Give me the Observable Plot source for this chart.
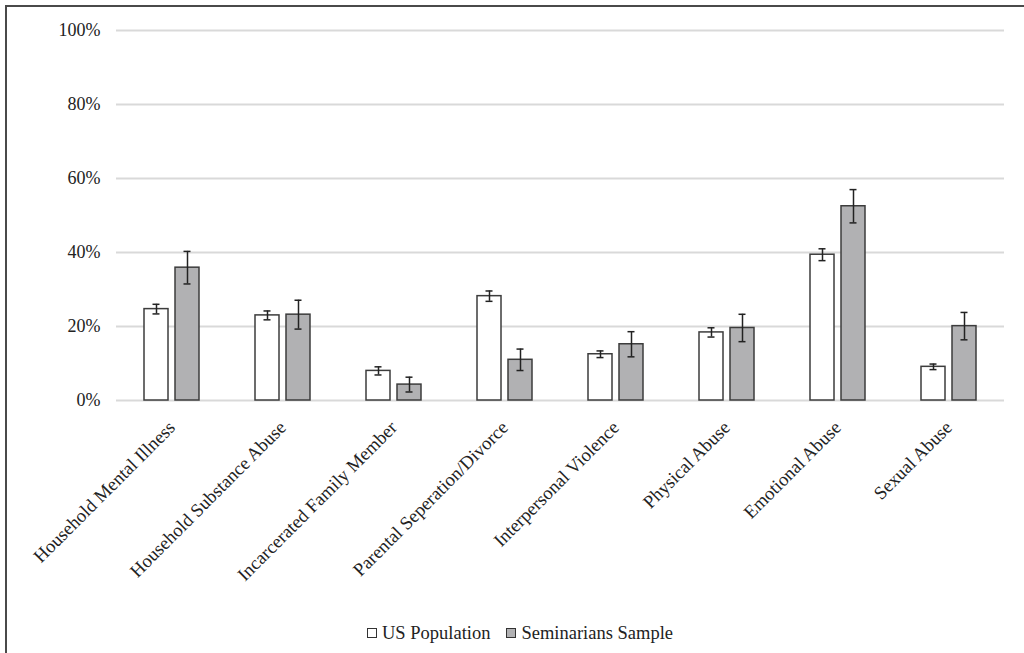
<!DOCTYPE html>
<html>
<head>
<meta charset="utf-8">
<script src="https://cdn.jsdelivr.net/npm/d3@7"></script>
<script src="https://cdn.jsdelivr.net/npm/@observablehq/plot@0.6"></script>
<style>
  html, body { margin: 0; padding: 0; background: #fff; }
  body { width: 1024px; height: 653px; overflow: hidden; font-family: 'Liberation Serif', serif; }
  #frame { margin: 5px 0 0 5px; border-left: 2px solid #4a4a4a; border-top: 2px solid #4a4a4a; width: 1017px; height: 646px; box-sizing: content-box; }
  #chart svg, #chart svg text { font-family: 'Liberation Serif', serif !important; }
  #chart g[aria-label="fx-axis tick label"] { font-size: 18.6px; }
  #legend { display: flex; align-items: center; padding-left: 360px; font-family: 'Liberation Serif', serif; font-size: 18.5px; color: #222; height: 30px; }
  .sw { display: inline-block; width: 8px; height: 8px; border: 1px solid #333; margin-right: 5px; }
  .item { display: flex; align-items: center; margin-right: 16px; }
</style>
</head>
<body>
<div id="frame">
  <div id="chart"></div>
  <div id="legend"></div>
</div>
<script>
const categories = [
  "Household Mental Illness",
  "Household Substance Abuse",
  "Incarcerated Family Member",
  "Parental Seperation/Divorce",
  "Interpersonal Violence",
  "Physical Abuse",
  "Emotional Abuse",
  "Sexual Abuse"
];
const seriesNames = ["US Population", "Seminarians Sample"];
const usValues  = [24.7, 23.0, 8.0, 28.2, 12.5, 18.4, 39.4, 9.1];
const usErr     = [1.3, 1.2, 1.1, 1.4, 0.9, 1.25, 1.6, 0.75];
const semValues = [35.9, 23.2, 4.3, 11.0, 15.2, 19.6, 52.5, 20.1];
const semErr    = [4.4, 3.9, 2.0, 2.9, 3.4, 3.7, 4.5, 3.7];
const yTicks = [0, 20, 40, 60, 80, 100];
const seriesColors = ["#ffffff", "#b1b1b3"];

const rows = [];
categories.forEach((c, i) => {
  rows.push({category: c, series: seriesNames[0], value: usValues[i], lo: usValues[i] - usErr[i], hi: usValues[i] + usErr[i]});
  rows.push({category: c, series: seriesNames[1], value: semValues[i], lo: semValues[i] - semErr[i], hi: semValues[i] + semErr[i]});
});

const chart = Plot.plot({
  width: 1017,
  height: 611,
  marginLeft: 108,
  marginRight: 20,
  marginTop: 23,
  marginBottom: 218,
  style: {fontFamily: "'Liberation Serif', serif", fontSize: "18px", color: "#222", background: "#fff"},
  facet: {data: rows, x: "category"},
  fx: {domain: categories, padding: 0, label: null, tickRotate: -45, tickSize: 0, tickPadding: 24, axis: "bottom"},
  x: {domain: seriesNames, axis: null, paddingInner: 0.22, paddingOuter: 0.846},
  y: {domain: [0, 100], ticks: yTicks, tickFormat: d => d + "%", label: null, tickSize: 0, tickPadding: 16},
  color: {domain: seriesNames, range: seriesColors},
  marks: [
    Plot.ruleY(yTicks, {stroke: "#d9d9d9", strokeWidth: 2}),
    Plot.barY(rows, {x: "series", y: "value", fill: "series", stroke: "#3c3c3c", strokeWidth: 1.5}),
    Plot.ruleX(rows, {x: "series", y1: "lo", y2: "hi", stroke: "#222", strokeWidth: 1.5}),
    Plot.tickY(rows, {x: "series", y: "hi", insetLeft: 8.5, insetRight: 8.5, stroke: "#222", strokeWidth: 1.5}),
    Plot.tickY(rows, {x: "series", y: "lo", insetLeft: 8.5, insetRight: 8.5, stroke: "#222", strokeWidth: 1.5})
  ]
});
document.getElementById("chart").appendChild(chart);

const legend = document.getElementById("legend");
seriesNames.forEach((s, i) => {
  const item = document.createElement("span");
  item.className = "item";
  const sw = document.createElement("span");
  sw.className = "sw";
  sw.style.background = seriesColors[i];
  item.appendChild(sw);
  item.appendChild(document.createTextNode(s));
  legend.appendChild(item);
});
</script>
</body>
</html>
